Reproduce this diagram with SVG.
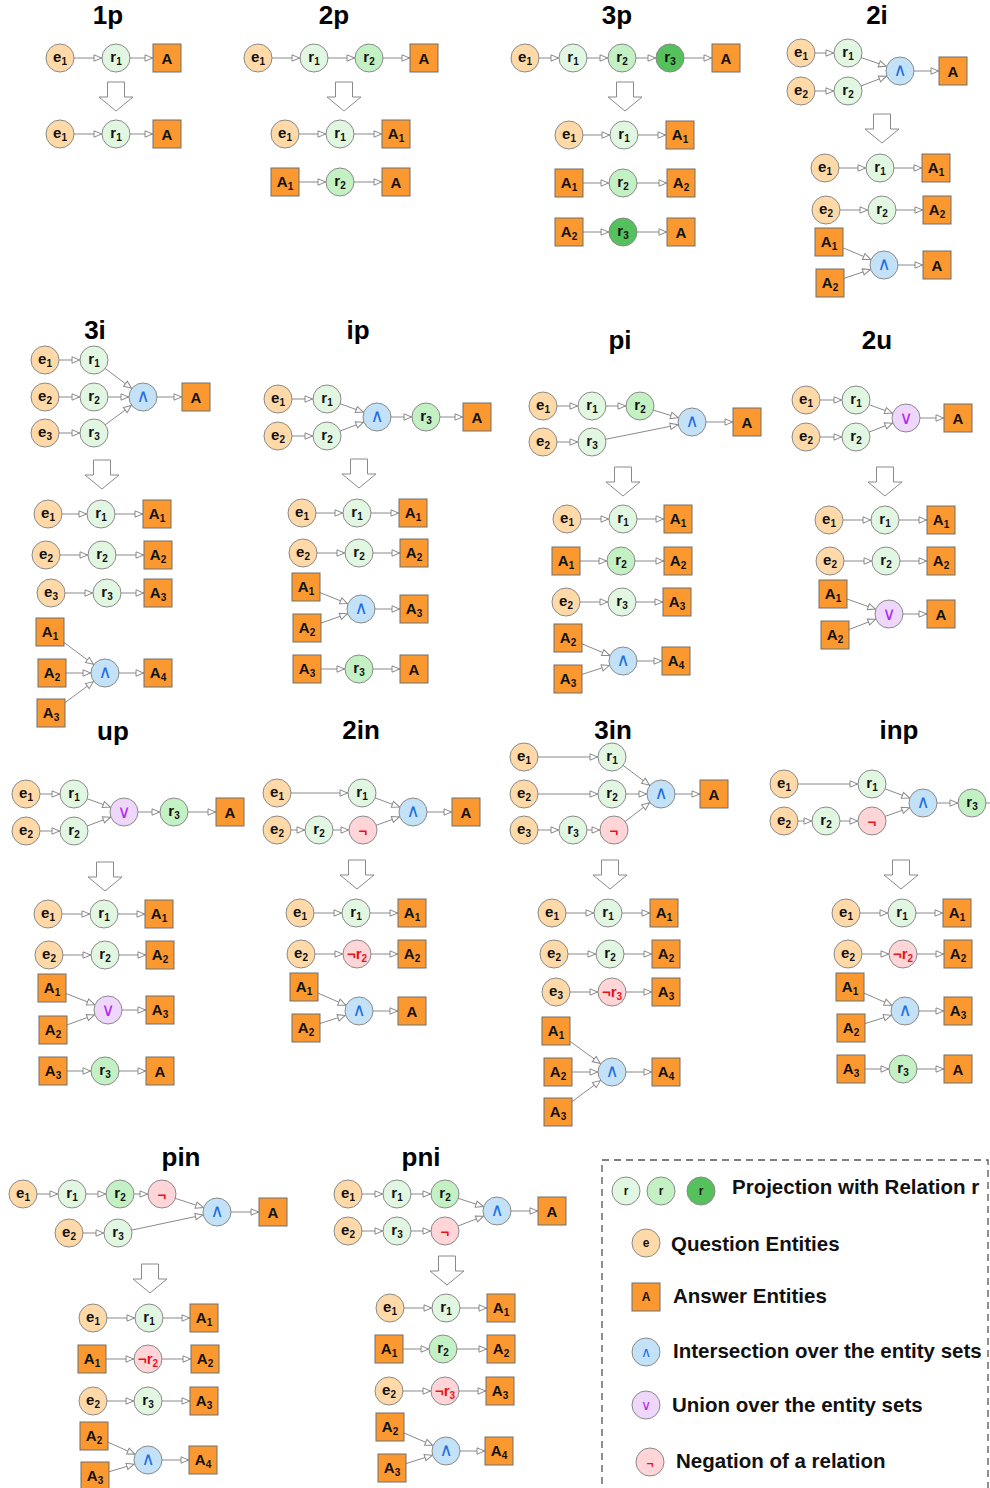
<svg xmlns="http://www.w3.org/2000/svg" width="990" height="1488" viewBox="0 0 990 1488">
<style>
.c{stroke:#8a8a8a;stroke-width:1}
.e{fill:#FFDAA8}.r1{fill:#E2F7E1}.r2{fill:#C3F1C4}.r3{fill:#54C15C}
.and{fill:#C4E2F7}.or{fill:#EFD6FB}.neg{fill:#FFD5D8}
.ans{fill:#FB982F;stroke:#6e6e6e;stroke-width:1}
.l{font-family:"Liberation Sans",Arial,sans-serif;font-weight:bold;font-size:15px;text-anchor:middle;fill:#111}
.s{font-size:10px}
.op{font-family:"DejaVu Sans",sans-serif;font-size:18px;text-anchor:middle}
.ao{fill:#1f6fe0}.oo{fill:#b030e8}
.no{fill:#e8121a}
.ttl{font-family:"Liberation Sans",Arial,sans-serif;font-weight:bold;font-size:26px;text-anchor:middle;fill:#000}
.edge line{stroke:#8a8a8a;stroke-width:1;marker-end:url(#ar)}
.big{fill:#fff;stroke:#8a8a8a;stroke-width:1}
.lg{font-family:"Liberation Sans",Arial,sans-serif;font-weight:bold;font-size:20.5px;fill:#111}
.ls{font-size:12px}
</style>
<defs>
<marker id="ar" markerUnits="userSpaceOnUse" viewBox="-30 -6 32 12" refX="0" refY="0" markerWidth="32" markerHeight="12" orient="auto" overflow="visible">
<path d="M-14.5,0 L-22,-3.2 L-22,3.2 Z" fill="#fff" stroke="#8a8a8a" stroke-width="1"/>
</marker>
<path id="bigarrow" class="big" d="M-8.5,0h17v15h8.5L0,29L-17,15h8.5Z"/>
</defs>
<rect width="990" height="1488" fill="#fff"/>

<g id="titles" class="ttl">
<text x="108" y="24">1p</text><text x="334" y="24">2p</text><text x="617" y="24">3p</text><text x="877" y="24">2i</text>
<text x="95" y="339">3i</text><text x="358" y="339">ip</text><text x="620" y="349">pi</text><text x="877" y="349">2u</text>
<text x="113" y="740">up</text><text x="361" y="739">2in</text><text x="613" y="739">3in</text><text x="899" y="739">inp</text>
<text x="181" y="1166">pin</text><text x="421" y="1166">pni</text>
</g>

<g id="transform-arrows">
<use href="#bigarrow" x="116" y="82"/><use href="#bigarrow" x="344" y="82"/><use href="#bigarrow" x="625" y="82"/><use href="#bigarrow" x="882" y="114"/>
<use href="#bigarrow" x="102" y="460"/><use href="#bigarrow" x="359" y="459"/><use href="#bigarrow" x="623" y="467"/><use href="#bigarrow" x="885" y="467"/>
<use href="#bigarrow" x="105" y="862"/><use href="#bigarrow" x="357" y="860"/><use href="#bigarrow" x="610" y="860"/><use href="#bigarrow" x="901" y="860"/>
<use href="#bigarrow" x="150" y="1264"/><use href="#bigarrow" x="447" y="1256"/>
</g>

<g id="connectors" class="edge">
<line x1="60" y1="58" x2="116" y2="58"/><line x1="116" y1="58" x2="167" y2="58"/><line x1="60" y1="134" x2="116" y2="134"/><line x1="116" y1="134" x2="167" y2="134"/>
<line x1="258" y1="58" x2="314" y2="58"/><line x1="314" y1="58" x2="369" y2="58"/><line x1="369" y1="58" x2="424" y2="58"/><line x1="285" y1="134" x2="340" y2="134"/><line x1="340" y1="134" x2="396" y2="134"/><line x1="285" y1="182" x2="340" y2="182"/><line x1="340" y1="182" x2="396" y2="182"/>
<line x1="525" y1="58" x2="573" y2="58"/><line x1="573" y1="58" x2="622" y2="58"/><line x1="622" y1="58" x2="670" y2="58"/><line x1="670" y1="58" x2="726" y2="58"/><line x1="569" y1="135" x2="624" y2="135"/><line x1="624" y1="135" x2="680" y2="135"/><line x1="569" y1="183" x2="623" y2="183"/><line x1="623" y1="183" x2="681" y2="183"/><line x1="569" y1="232" x2="623" y2="232"/><line x1="623" y1="232" x2="681" y2="232"/>
<line x1="801" y1="53" x2="848" y2="53"/><line x1="801" y1="91" x2="848" y2="91"/><line x1="848" y1="53" x2="900" y2="71"/><line x1="848" y1="91" x2="900" y2="71"/><line x1="900" y1="71" x2="953" y2="71"/><line x1="825" y1="168" x2="880" y2="168"/><line x1="880" y1="168" x2="936" y2="168"/><line x1="826" y1="210" x2="882" y2="210"/><line x1="882" y1="210" x2="937" y2="210"/><line x1="829" y1="242" x2="884" y2="265"/><line x1="830" y1="283" x2="884" y2="265"/><line x1="884" y1="265" x2="937" y2="265"/>
<line x1="45" y1="360" x2="94" y2="360"/><line x1="45" y1="397" x2="94" y2="397"/><line x1="45" y1="433" x2="94" y2="433"/><line x1="94" y1="360" x2="143" y2="397"/><line x1="94" y1="397" x2="143" y2="397"/><line x1="94" y1="433" x2="143" y2="397"/><line x1="143" y1="397" x2="196" y2="397"/>
<line x1="48" y1="514" x2="101" y2="514"/><line x1="101" y1="514" x2="157" y2="514"/><line x1="46" y1="555" x2="102" y2="555"/><line x1="102" y1="555" x2="158" y2="555"/><line x1="51" y1="593" x2="107" y2="593"/><line x1="107" y1="593" x2="158" y2="593"/><line x1="50" y1="632" x2="105" y2="673"/><line x1="52" y1="673" x2="105" y2="673"/><line x1="51" y1="713" x2="105" y2="673"/><line x1="105" y1="673" x2="158" y2="673"/>
<line x1="278" y1="399" x2="327" y2="399"/><line x1="278" y1="436" x2="327" y2="436"/><line x1="327" y1="399" x2="377" y2="417"/><line x1="327" y1="436" x2="377" y2="417"/><line x1="377" y1="417" x2="426" y2="417"/><line x1="426" y1="417" x2="477" y2="417"/>
<line x1="302" y1="513" x2="357" y2="513"/><line x1="357" y1="513" x2="413" y2="513"/><line x1="303" y1="553" x2="359" y2="553"/><line x1="359" y1="553" x2="414" y2="553"/><line x1="306" y1="587" x2="361" y2="609"/><line x1="307" y1="628" x2="361" y2="609"/><line x1="361" y1="609" x2="414" y2="609"/><line x1="307" y1="669" x2="359" y2="669"/><line x1="359" y1="669" x2="414" y2="669"/>
<line x1="543" y1="406" x2="592" y2="406"/><line x1="592" y1="406" x2="640" y2="406"/><line x1="640" y1="406" x2="692" y2="422"/><line x1="543" y1="442" x2="592" y2="442"/><line x1="592" y1="442" x2="692" y2="422"/><line x1="692" y1="422" x2="747" y2="422"/>
<line x1="567" y1="519" x2="623" y2="519"/><line x1="623" y1="519" x2="678" y2="519"/><line x1="566" y1="561" x2="621" y2="561"/><line x1="621" y1="561" x2="678" y2="561"/><line x1="566" y1="602" x2="622" y2="602"/><line x1="622" y1="602" x2="677" y2="602"/><line x1="568" y1="638" x2="623" y2="661"/><line x1="568" y1="679" x2="623" y2="661"/><line x1="623" y1="661" x2="676" y2="661"/>
<line x1="806" y1="400" x2="856" y2="400"/><line x1="806" y1="437" x2="856" y2="437"/><line x1="856" y1="400" x2="906" y2="418"/><line x1="856" y1="437" x2="906" y2="418"/><line x1="906" y1="418" x2="958" y2="418"/>
<line x1="829" y1="520" x2="885" y2="520"/><line x1="885" y1="520" x2="941" y2="520"/><line x1="830" y1="561" x2="886" y2="561"/><line x1="886" y1="561" x2="941" y2="561"/><line x1="833" y1="594" x2="889" y2="614"/><line x1="835" y1="635" x2="889" y2="614"/><line x1="889" y1="614" x2="941" y2="614"/>
<line x1="26" y1="794" x2="74" y2="794"/><line x1="26" y1="831" x2="74" y2="831"/><line x1="74" y1="794" x2="124" y2="812"/><line x1="74" y1="831" x2="124" y2="812"/><line x1="124" y1="812" x2="174" y2="812"/><line x1="174" y1="812" x2="230" y2="812"/>
<line x1="48" y1="914" x2="104" y2="914"/><line x1="104" y1="914" x2="159" y2="914"/><line x1="49" y1="955" x2="105" y2="955"/><line x1="105" y1="955" x2="160" y2="955"/><line x1="52" y1="988" x2="108" y2="1010"/><line x1="53" y1="1030" x2="108" y2="1010"/><line x1="108" y1="1010" x2="160" y2="1010"/><line x1="53" y1="1071" x2="105" y2="1071"/><line x1="105" y1="1071" x2="160" y2="1071"/>
<line x1="277" y1="793" x2="362" y2="793"/><line x1="277" y1="830" x2="319" y2="830"/><line x1="319" y1="830" x2="363" y2="830"/><line x1="362" y1="793" x2="413" y2="812"/><line x1="363" y1="830" x2="413" y2="812"/><line x1="413" y1="812" x2="466" y2="812"/>
<line x1="300" y1="913" x2="356" y2="913"/><line x1="356" y1="913" x2="412" y2="913"/><line x1="301" y1="954" x2="357" y2="954"/><line x1="357" y1="954" x2="412" y2="954"/><line x1="304" y1="987" x2="359" y2="1011"/><line x1="306" y1="1028" x2="359" y2="1011"/><line x1="359" y1="1011" x2="412" y2="1011"/>
<line x1="524" y1="757" x2="612" y2="757"/><line x1="524" y1="794" x2="612" y2="794"/><line x1="524" y1="830" x2="573" y2="830"/><line x1="573" y1="830" x2="614" y2="830"/><line x1="612" y1="757" x2="661" y2="794"/><line x1="612" y1="794" x2="661" y2="794"/><line x1="614" y1="830" x2="661" y2="794"/><line x1="661" y1="794" x2="714" y2="794"/>
<line x1="552" y1="913" x2="608" y2="913"/><line x1="608" y1="913" x2="664" y2="913"/><line x1="554" y1="954" x2="610" y2="954"/><line x1="610" y1="954" x2="666" y2="954"/><line x1="556" y1="992" x2="612" y2="992"/><line x1="612" y1="992" x2="666" y2="992"/><line x1="556" y1="1031" x2="612" y2="1072"/><line x1="558" y1="1072" x2="612" y2="1072"/><line x1="558" y1="1112" x2="612" y2="1072"/><line x1="612" y1="1072" x2="666" y2="1072"/>
<line x1="784" y1="784" x2="872" y2="784"/><line x1="784" y1="821" x2="826" y2="821"/><line x1="826" y1="821" x2="872" y2="821"/><line x1="872" y1="784" x2="923" y2="803"/><line x1="872" y1="821" x2="923" y2="803"/><line x1="923" y1="803" x2="972" y2="803"/><line x1="972" y1="803" x2="992" y2="803" style="marker-end:none"/>
<line x1="846" y1="913" x2="902" y2="913"/><line x1="902" y1="913" x2="957" y2="913"/><line x1="848" y1="954" x2="903" y2="954"/><line x1="903" y1="954" x2="958" y2="954"/><line x1="850" y1="987" x2="905" y2="1011"/><line x1="851" y1="1028" x2="905" y2="1011"/><line x1="905" y1="1011" x2="958" y2="1011"/><line x1="851" y1="1069" x2="903" y2="1069"/><line x1="903" y1="1069" x2="958" y2="1069"/>
<line x1="23" y1="1194" x2="72" y2="1194"/><line x1="72" y1="1194" x2="120" y2="1194"/><line x1="120" y1="1194" x2="162" y2="1194"/><line x1="162" y1="1194" x2="217" y2="1212"/><line x1="69" y1="1233" x2="118" y2="1233"/><line x1="118" y1="1233" x2="217" y2="1212"/><line x1="217" y1="1212" x2="273" y2="1212"/>
<line x1="93" y1="1318" x2="149" y2="1318"/><line x1="149" y1="1318" x2="204" y2="1318"/><line x1="92" y1="1359" x2="148" y2="1359"/><line x1="148" y1="1359" x2="205" y2="1359"/><line x1="93" y1="1401" x2="148" y2="1401"/><line x1="148" y1="1401" x2="204" y2="1401"/><line x1="94" y1="1436" x2="148" y2="1460"/><line x1="95" y1="1476" x2="148" y2="1460"/><line x1="148" y1="1460" x2="203" y2="1460"/>
<line x1="348" y1="1194" x2="397" y2="1194"/><line x1="397" y1="1194" x2="445" y2="1194"/><line x1="445" y1="1194" x2="497" y2="1211"/><line x1="348" y1="1231" x2="397" y2="1231"/><line x1="397" y1="1231" x2="445" y2="1231"/><line x1="445" y1="1231" x2="497" y2="1211"/><line x1="497" y1="1211" x2="552" y2="1211"/>
<line x1="390" y1="1308" x2="446" y2="1308"/><line x1="446" y1="1308" x2="501" y2="1308"/><line x1="389" y1="1349" x2="443" y2="1349"/><line x1="443" y1="1349" x2="501" y2="1349"/><line x1="389" y1="1391" x2="445" y2="1391"/><line x1="445" y1="1391" x2="500" y2="1391"/><line x1="390" y1="1427" x2="446" y2="1451"/><line x1="392" y1="1468" x2="446" y2="1451"/><line x1="446" y1="1451" x2="499" y2="1451"/>
</g>

<!-- 1p -->
<g id="p1-e1"><circle class="c e" cx="60" cy="58" r="14"/><text class="l" x="60" y="62">e<tspan class="s" dy="3">1</tspan></text></g>
<g id="p1-r1"><circle class="c r1" cx="116" cy="58" r="14"/><text class="l" x="116" y="62">r<tspan class="s" dy="3">1</tspan></text></g>
<g id="p1-A"><rect class="ans" x="153" y="44" width="28" height="28"/><text class="l" x="167" y="64">A</text></g>
<g id="p1b-e1"><circle class="c e" cx="60" cy="134" r="14"/><text class="l" x="60" y="138">e<tspan class="s" dy="3">1</tspan></text></g>
<g id="p1b-r1"><circle class="c r1" cx="116" cy="134" r="14"/><text class="l" x="116" y="138">r<tspan class="s" dy="3">1</tspan></text></g>
<g id="p1b-A"><rect class="ans" x="153" y="120" width="28" height="28"/><text class="l" x="167" y="140">A</text></g>

<!-- 2p -->
<g id="p2-e1"><circle class="c e" cx="258" cy="58" r="14"/><text class="l" x="258" y="62">e<tspan class="s" dy="3">1</tspan></text></g>
<g id="p2-r1"><circle class="c r1" cx="314" cy="58" r="14"/><text class="l" x="314" y="62">r<tspan class="s" dy="3">1</tspan></text></g>
<g id="p2-r2"><circle class="c r2" cx="369" cy="58" r="14"/><text class="l" x="369" y="62">r<tspan class="s" dy="3">2</tspan></text></g>
<g id="p2-A"><rect class="ans" x="410" y="44" width="28" height="28"/><text class="l" x="424" y="64">A</text></g>
<g id="p2b-e1"><circle class="c e" cx="285" cy="134" r="14"/><text class="l" x="285" y="138">e<tspan class="s" dy="3">1</tspan></text></g>
<g id="p2b-r1"><circle class="c r1" cx="340" cy="134" r="14"/><text class="l" x="340" y="138">r<tspan class="s" dy="3">1</tspan></text></g>
<g id="p2b-A1"><rect class="ans" x="382" y="120" width="28" height="28"/><text class="l" x="396" y="139">A<tspan class="s" dy="3">1</tspan></text></g>
<g id="p2c-A1"><rect class="ans" x="271" y="168" width="28" height="28"/><text class="l" x="285" y="187">A<tspan class="s" dy="3">1</tspan></text></g>
<g id="p2c-r2"><circle class="c r2" cx="340" cy="182" r="14"/><text class="l" x="340" y="186">r<tspan class="s" dy="3">2</tspan></text></g>
<g id="p2c-A"><rect class="ans" x="382" y="168" width="28" height="28"/><text class="l" x="396" y="188">A</text></g>

<!-- 3p -->
<g id="p3-e1"><circle class="c e" cx="525" cy="58" r="14"/><text class="l" x="525" y="62">e<tspan class="s" dy="3">1</tspan></text></g>
<g id="p3-r1"><circle class="c r1" cx="573" cy="58" r="14"/><text class="l" x="573" y="62">r<tspan class="s" dy="3">1</tspan></text></g>
<g id="p3-r2"><circle class="c r2" cx="622" cy="58" r="14"/><text class="l" x="622" y="62">r<tspan class="s" dy="3">2</tspan></text></g>
<g id="p3-r3"><circle class="c r3" cx="670" cy="58" r="14"/><text class="l" x="670" y="62">r<tspan class="s" dy="3">3</tspan></text></g>
<g id="p3-A"><rect class="ans" x="712" y="44" width="28" height="28"/><text class="l" x="726" y="64">A</text></g>
<g id="p3b-e1"><circle class="c e" cx="569" cy="135" r="14"/><text class="l" x="569" y="139">e<tspan class="s" dy="3">1</tspan></text></g>
<g id="p3b-r1"><circle class="c r1" cx="624" cy="135" r="14"/><text class="l" x="624" y="139">r<tspan class="s" dy="3">1</tspan></text></g>
<g id="p3b-A1"><rect class="ans" x="666" y="121" width="28" height="28"/><text class="l" x="680" y="140">A<tspan class="s" dy="3">1</tspan></text></g>
<g id="p3c-A1"><rect class="ans" x="555" y="169" width="28" height="28"/><text class="l" x="569" y="188">A<tspan class="s" dy="3">1</tspan></text></g>
<g id="p3c-r2"><circle class="c r2" cx="623" cy="183" r="14"/><text class="l" x="623" y="187">r<tspan class="s" dy="3">2</tspan></text></g>
<g id="p3c-A2"><rect class="ans" x="667" y="169" width="28" height="28"/><text class="l" x="681" y="188">A<tspan class="s" dy="3">2</tspan></text></g>
<g id="p3d-A2"><rect class="ans" x="555" y="218" width="28" height="28"/><text class="l" x="569" y="237">A<tspan class="s" dy="3">2</tspan></text></g>
<g id="p3d-r3"><circle class="c r3" cx="623" cy="232" r="14"/><text class="l" x="623" y="236">r<tspan class="s" dy="3">3</tspan></text></g>
<g id="p3d-A"><rect class="ans" x="667" y="218" width="28" height="28"/><text class="l" x="681" y="238">A</text></g>

<!-- 2i -->
<g id="i2-e1"><circle class="c e" cx="801" cy="53" r="14"/><text class="l" x="801" y="57">e<tspan class="s" dy="3">1</tspan></text></g>
<g id="i2-r1"><circle class="c r1" cx="848" cy="53" r="14"/><text class="l" x="848" y="57">r<tspan class="s" dy="3">1</tspan></text></g>
<g id="i2-e2"><circle class="c e" cx="801" cy="91" r="14"/><text class="l" x="801" y="95">e<tspan class="s" dy="3">2</tspan></text></g>
<g id="i2-r2"><circle class="c r1" cx="848" cy="91" r="14"/><text class="l" x="848" y="95">r<tspan class="s" dy="3">2</tspan></text></g>
<g id="i2-and"><circle class="c and" cx="900" cy="71" r="14"/><text class="op ao" x="900" y="76">∧</text></g>
<g id="i2-A"><rect class="ans" x="939" y="57" width="28" height="28"/><text class="l" x="953" y="77">A</text></g>
<g id="i2b-e1"><circle class="c e" cx="825" cy="168" r="14"/><text class="l" x="825" y="172">e<tspan class="s" dy="3">1</tspan></text></g>
<g id="i2b-r1"><circle class="c r1" cx="880" cy="168" r="14"/><text class="l" x="880" y="172">r<tspan class="s" dy="3">1</tspan></text></g>
<g id="i2b-A1"><rect class="ans" x="922" y="154" width="28" height="28"/><text class="l" x="936" y="173">A<tspan class="s" dy="3">1</tspan></text></g>
<g id="i2c-e2"><circle class="c e" cx="826" cy="210" r="14"/><text class="l" x="826" y="214">e<tspan class="s" dy="3">2</tspan></text></g>
<g id="i2c-r2"><circle class="c r1" cx="882" cy="210" r="14"/><text class="l" x="882" y="214">r<tspan class="s" dy="3">2</tspan></text></g>
<g id="i2c-A2"><rect class="ans" x="923" y="196" width="28" height="28"/><text class="l" x="937" y="215">A<tspan class="s" dy="3">2</tspan></text></g>
<g id="i2d-A1"><rect class="ans" x="815" y="228" width="28" height="28"/><text class="l" x="829" y="247">A<tspan class="s" dy="3">1</tspan></text></g>
<g id="i2d-A2"><rect class="ans" x="816" y="269" width="28" height="28"/><text class="l" x="830" y="288">A<tspan class="s" dy="3">2</tspan></text></g>
<g id="i2d-and"><circle class="c and" cx="884" cy="265" r="14"/><text class="op ao" x="884" y="270">∧</text></g>
<g id="i2d-A"><rect class="ans" x="923" y="251" width="28" height="28"/><text class="l" x="937" y="271">A</text></g>

<!-- 3i -->
<g id="i3-e1"><circle class="c e" cx="45" cy="360" r="14"/><text class="l" x="45" y="364">e<tspan class="s" dy="3">1</tspan></text></g>
<g id="i3-r1"><circle class="c r1" cx="94" cy="360" r="14"/><text class="l" x="94" y="364">r<tspan class="s" dy="3">1</tspan></text></g>
<g id="i3-e2"><circle class="c e" cx="45" cy="397" r="14"/><text class="l" x="45" y="401">e<tspan class="s" dy="3">2</tspan></text></g>
<g id="i3-r2"><circle class="c r1" cx="94" cy="397" r="14"/><text class="l" x="94" y="401">r<tspan class="s" dy="3">2</tspan></text></g>
<g id="i3-e3"><circle class="c e" cx="45" cy="433" r="14"/><text class="l" x="45" y="437">e<tspan class="s" dy="3">3</tspan></text></g>
<g id="i3-r3"><circle class="c r1" cx="94" cy="433" r="14"/><text class="l" x="94" y="437">r<tspan class="s" dy="3">3</tspan></text></g>
<g id="i3-and"><circle class="c and" cx="143" cy="397" r="14"/><text class="op ao" x="143" y="402">∧</text></g>
<g id="i3-A"><rect class="ans" x="182" y="383" width="28" height="28"/><text class="l" x="196" y="403">A</text></g>
<g id="i3b-e1"><circle class="c e" cx="48" cy="514" r="14"/><text class="l" x="48" y="518">e<tspan class="s" dy="3">1</tspan></text></g>
<g id="i3b-r1"><circle class="c r1" cx="101" cy="514" r="14"/><text class="l" x="101" y="518">r<tspan class="s" dy="3">1</tspan></text></g>
<g id="i3b-A1"><rect class="ans" x="143" y="500" width="28" height="28"/><text class="l" x="157" y="519">A<tspan class="s" dy="3">1</tspan></text></g>
<g id="i3c-e2"><circle class="c e" cx="46" cy="555" r="14"/><text class="l" x="46" y="559">e<tspan class="s" dy="3">2</tspan></text></g>
<g id="i3c-r2"><circle class="c r1" cx="102" cy="555" r="14"/><text class="l" x="102" y="559">r<tspan class="s" dy="3">2</tspan></text></g>
<g id="i3c-A2"><rect class="ans" x="144" y="541" width="28" height="28"/><text class="l" x="158" y="560">A<tspan class="s" dy="3">2</tspan></text></g>
<g id="i3d-e3"><circle class="c e" cx="51" cy="593" r="14"/><text class="l" x="51" y="597">e<tspan class="s" dy="3">3</tspan></text></g>
<g id="i3d-r3"><circle class="c r1" cx="107" cy="593" r="14"/><text class="l" x="107" y="597">r<tspan class="s" dy="3">3</tspan></text></g>
<g id="i3d-A3"><rect class="ans" x="144" y="579" width="28" height="28"/><text class="l" x="158" y="598">A<tspan class="s" dy="3">3</tspan></text></g>
<g id="i3e-A1"><rect class="ans" x="36" y="618" width="28" height="28"/><text class="l" x="50" y="637">A<tspan class="s" dy="3">1</tspan></text></g>
<g id="i3e-A2"><rect class="ans" x="38" y="659" width="28" height="28"/><text class="l" x="52" y="678">A<tspan class="s" dy="3">2</tspan></text></g>
<g id="i3e-A3"><rect class="ans" x="37" y="699" width="28" height="28"/><text class="l" x="51" y="718">A<tspan class="s" dy="3">3</tspan></text></g>
<g id="i3e-and"><circle class="c and" cx="105" cy="673" r="14"/><text class="op ao" x="105" y="678">∧</text></g>
<g id="i3e-A4"><rect class="ans" x="144" y="659" width="28" height="28"/><text class="l" x="158" y="678">A<tspan class="s" dy="3">4</tspan></text></g>

<!-- ip -->
<g id="ip-e1"><circle class="c e" cx="278" cy="399" r="14"/><text class="l" x="278" y="403">e<tspan class="s" dy="3">1</tspan></text></g>
<g id="ip-r1"><circle class="c r1" cx="327" cy="399" r="14"/><text class="l" x="327" y="403">r<tspan class="s" dy="3">1</tspan></text></g>
<g id="ip-e2"><circle class="c e" cx="278" cy="436" r="14"/><text class="l" x="278" y="440">e<tspan class="s" dy="3">2</tspan></text></g>
<g id="ip-r2"><circle class="c r1" cx="327" cy="436" r="14"/><text class="l" x="327" y="440">r<tspan class="s" dy="3">2</tspan></text></g>
<g id="ip-and"><circle class="c and" cx="377" cy="417" r="14"/><text class="op ao" x="377" y="422">∧</text></g>
<g id="ip-r3"><circle class="c r2" cx="426" cy="417" r="14"/><text class="l" x="426" y="421">r<tspan class="s" dy="3">3</tspan></text></g>
<g id="ip-A"><rect class="ans" x="463" y="403" width="28" height="28"/><text class="l" x="477" y="423">A</text></g>
<g id="ipb-e1"><circle class="c e" cx="302" cy="513" r="14"/><text class="l" x="302" y="517">e<tspan class="s" dy="3">1</tspan></text></g>
<g id="ipb-r1"><circle class="c r1" cx="357" cy="513" r="14"/><text class="l" x="357" y="517">r<tspan class="s" dy="3">1</tspan></text></g>
<g id="ipb-A1"><rect class="ans" x="399" y="499" width="28" height="28"/><text class="l" x="413" y="518">A<tspan class="s" dy="3">1</tspan></text></g>
<g id="ipc-e2"><circle class="c e" cx="303" cy="553" r="14"/><text class="l" x="303" y="557">e<tspan class="s" dy="3">2</tspan></text></g>
<g id="ipc-r2"><circle class="c r1" cx="359" cy="553" r="14"/><text class="l" x="359" y="557">r<tspan class="s" dy="3">2</tspan></text></g>
<g id="ipc-A2"><rect class="ans" x="400" y="539" width="28" height="28"/><text class="l" x="414" y="558">A<tspan class="s" dy="3">2</tspan></text></g>
<g id="ipd-A1"><rect class="ans" x="292" y="573" width="28" height="28"/><text class="l" x="306" y="592">A<tspan class="s" dy="3">1</tspan></text></g>
<g id="ipd-A2"><rect class="ans" x="293" y="614" width="28" height="28"/><text class="l" x="307" y="633">A<tspan class="s" dy="3">2</tspan></text></g>
<g id="ipd-and"><circle class="c and" cx="361" cy="609" r="14"/><text class="op ao" x="361" y="614">∧</text></g>
<g id="ipd-A3"><rect class="ans" x="400" y="595" width="28" height="28"/><text class="l" x="414" y="614">A<tspan class="s" dy="3">3</tspan></text></g>
<g id="ipe-A3"><rect class="ans" x="293" y="655" width="28" height="28"/><text class="l" x="307" y="674">A<tspan class="s" dy="3">3</tspan></text></g>
<g id="ipe-r3"><circle class="c r2" cx="359" cy="669" r="14"/><text class="l" x="359" y="673">r<tspan class="s" dy="3">3</tspan></text></g>
<g id="ipe-A"><rect class="ans" x="400" y="655" width="28" height="28"/><text class="l" x="414" y="675">A</text></g>

<!-- pi -->
<g id="pi-e1"><circle class="c e" cx="543" cy="406" r="14"/><text class="l" x="543" y="410">e<tspan class="s" dy="3">1</tspan></text></g>
<g id="pi-r1"><circle class="c r1" cx="592" cy="406" r="14"/><text class="l" x="592" y="410">r<tspan class="s" dy="3">1</tspan></text></g>
<g id="pi-r2"><circle class="c r2" cx="640" cy="406" r="14"/><text class="l" x="640" y="410">r<tspan class="s" dy="3">2</tspan></text></g>
<g id="pi-e2"><circle class="c e" cx="543" cy="442" r="14"/><text class="l" x="543" y="446">e<tspan class="s" dy="3">2</tspan></text></g>
<g id="pi-r3"><circle class="c r1" cx="592" cy="442" r="14"/><text class="l" x="592" y="446">r<tspan class="s" dy="3">3</tspan></text></g>
<g id="pi-and"><circle class="c and" cx="692" cy="422" r="14"/><text class="op ao" x="692" y="427">∧</text></g>
<g id="pi-A"><rect class="ans" x="733" y="408" width="28" height="28"/><text class="l" x="747" y="428">A</text></g>
<g id="pib-e1"><circle class="c e" cx="567" cy="519" r="14"/><text class="l" x="567" y="523">e<tspan class="s" dy="3">1</tspan></text></g>
<g id="pib-r1"><circle class="c r1" cx="623" cy="519" r="14"/><text class="l" x="623" y="523">r<tspan class="s" dy="3">1</tspan></text></g>
<g id="pib-A1"><rect class="ans" x="664" y="505" width="28" height="28"/><text class="l" x="678" y="524">A<tspan class="s" dy="3">1</tspan></text></g>
<g id="pic-A1"><rect class="ans" x="552" y="547" width="28" height="28"/><text class="l" x="566" y="566">A<tspan class="s" dy="3">1</tspan></text></g>
<g id="pic-r2"><circle class="c r2" cx="621" cy="561" r="14"/><text class="l" x="621" y="565">r<tspan class="s" dy="3">2</tspan></text></g>
<g id="pic-A2"><rect class="ans" x="664" y="547" width="28" height="28"/><text class="l" x="678" y="566">A<tspan class="s" dy="3">2</tspan></text></g>
<g id="pid-e2"><circle class="c e" cx="566" cy="602" r="14"/><text class="l" x="566" y="606">e<tspan class="s" dy="3">2</tspan></text></g>
<g id="pid-r3"><circle class="c r1" cx="622" cy="602" r="14"/><text class="l" x="622" y="606">r<tspan class="s" dy="3">3</tspan></text></g>
<g id="pid-A3"><rect class="ans" x="663" y="588" width="28" height="28"/><text class="l" x="677" y="607">A<tspan class="s" dy="3">3</tspan></text></g>
<g id="pie-A2"><rect class="ans" x="554" y="624" width="28" height="28"/><text class="l" x="568" y="643">A<tspan class="s" dy="3">2</tspan></text></g>
<g id="pie-A3"><rect class="ans" x="554" y="665" width="28" height="28"/><text class="l" x="568" y="684">A<tspan class="s" dy="3">3</tspan></text></g>
<g id="pie-and"><circle class="c and" cx="623" cy="661" r="14"/><text class="op ao" x="623" y="666">∧</text></g>
<g id="pie-A4"><rect class="ans" x="662" y="647" width="28" height="28"/><text class="l" x="676" y="666">A<tspan class="s" dy="3">4</tspan></text></g>

<!-- 2u -->
<g id="u2-e1"><circle class="c e" cx="806" cy="400" r="14"/><text class="l" x="806" y="404">e<tspan class="s" dy="3">1</tspan></text></g>
<g id="u2-r1"><circle class="c r1" cx="856" cy="400" r="14"/><text class="l" x="856" y="404">r<tspan class="s" dy="3">1</tspan></text></g>
<g id="u2-e2"><circle class="c e" cx="806" cy="437" r="14"/><text class="l" x="806" y="441">e<tspan class="s" dy="3">2</tspan></text></g>
<g id="u2-r2"><circle class="c r1" cx="856" cy="437" r="14"/><text class="l" x="856" y="441">r<tspan class="s" dy="3">2</tspan></text></g>
<g id="u2-or"><circle class="c or" cx="906" cy="418" r="14"/><text class="op oo" x="906" y="424">∨</text></g>
<g id="u2-A"><rect class="ans" x="944" y="404" width="28" height="28"/><text class="l" x="958" y="424">A</text></g>
<g id="u2b-e1"><circle class="c e" cx="829" cy="520" r="14"/><text class="l" x="829" y="524">e<tspan class="s" dy="3">1</tspan></text></g>
<g id="u2b-r1"><circle class="c r1" cx="885" cy="520" r="14"/><text class="l" x="885" y="524">r<tspan class="s" dy="3">1</tspan></text></g>
<g id="u2b-A1"><rect class="ans" x="927" y="506" width="28" height="28"/><text class="l" x="941" y="525">A<tspan class="s" dy="3">1</tspan></text></g>
<g id="u2c-e2"><circle class="c e" cx="830" cy="561" r="14"/><text class="l" x="830" y="565">e<tspan class="s" dy="3">2</tspan></text></g>
<g id="u2c-r2"><circle class="c r1" cx="886" cy="561" r="14"/><text class="l" x="886" y="565">r<tspan class="s" dy="3">2</tspan></text></g>
<g id="u2c-A2"><rect class="ans" x="927" y="547" width="28" height="28"/><text class="l" x="941" y="566">A<tspan class="s" dy="3">2</tspan></text></g>
<g id="u2d-A1"><rect class="ans" x="819" y="580" width="28" height="28"/><text class="l" x="833" y="599">A<tspan class="s" dy="3">1</tspan></text></g>
<g id="u2d-A2"><rect class="ans" x="821" y="621" width="28" height="28"/><text class="l" x="835" y="640">A<tspan class="s" dy="3">2</tspan></text></g>
<g id="u2d-or"><circle class="c or" cx="889" cy="614" r="14"/><text class="op oo" x="889" y="620">∨</text></g>
<g id="u2d-A"><rect class="ans" x="927" y="600" width="28" height="28"/><text class="l" x="941" y="620">A</text></g>

<!-- up -->
<g id="up-e1"><circle class="c e" cx="26" cy="794" r="14"/><text class="l" x="26" y="798">e<tspan class="s" dy="3">1</tspan></text></g>
<g id="up-r1"><circle class="c r1" cx="74" cy="794" r="14"/><text class="l" x="74" y="798">r<tspan class="s" dy="3">1</tspan></text></g>
<g id="up-e2"><circle class="c e" cx="26" cy="831" r="14"/><text class="l" x="26" y="835">e<tspan class="s" dy="3">2</tspan></text></g>
<g id="up-r2"><circle class="c r1" cx="74" cy="831" r="14"/><text class="l" x="74" y="835">r<tspan class="s" dy="3">2</tspan></text></g>
<g id="up-or"><circle class="c or" cx="124" cy="812" r="14"/><text class="op oo" x="124" y="818">∨</text></g>
<g id="up-r3"><circle class="c r2" cx="174" cy="812" r="14"/><text class="l" x="174" y="816">r<tspan class="s" dy="3">3</tspan></text></g>
<g id="up-A"><rect class="ans" x="216" y="798" width="28" height="28"/><text class="l" x="230" y="818">A</text></g>
<g id="upb-e1"><circle class="c e" cx="48" cy="914" r="14"/><text class="l" x="48" y="918">e<tspan class="s" dy="3">1</tspan></text></g>
<g id="upb-r1"><circle class="c r1" cx="104" cy="914" r="14"/><text class="l" x="104" y="918">r<tspan class="s" dy="3">1</tspan></text></g>
<g id="upb-A1"><rect class="ans" x="145" y="900" width="28" height="28"/><text class="l" x="159" y="919">A<tspan class="s" dy="3">1</tspan></text></g>
<g id="upc-e2"><circle class="c e" cx="49" cy="955" r="14"/><text class="l" x="49" y="959">e<tspan class="s" dy="3">2</tspan></text></g>
<g id="upc-r2"><circle class="c r1" cx="105" cy="955" r="14"/><text class="l" x="105" y="959">r<tspan class="s" dy="3">2</tspan></text></g>
<g id="upc-A2"><rect class="ans" x="146" y="941" width="28" height="28"/><text class="l" x="160" y="960">A<tspan class="s" dy="3">2</tspan></text></g>
<g id="upd-A1"><rect class="ans" x="38" y="974" width="28" height="28"/><text class="l" x="52" y="993">A<tspan class="s" dy="3">1</tspan></text></g>
<g id="upd-A2"><rect class="ans" x="39" y="1016" width="28" height="28"/><text class="l" x="53" y="1035">A<tspan class="s" dy="3">2</tspan></text></g>
<g id="upd-or"><circle class="c or" cx="108" cy="1010" r="14"/><text class="op oo" x="108" y="1016">∨</text></g>
<g id="upd-A3"><rect class="ans" x="146" y="996" width="28" height="28"/><text class="l" x="160" y="1015">A<tspan class="s" dy="3">3</tspan></text></g>
<g id="upe-A3"><rect class="ans" x="39" y="1057" width="28" height="28"/><text class="l" x="53" y="1076">A<tspan class="s" dy="3">3</tspan></text></g>
<g id="upe-r3"><circle class="c r2" cx="105" cy="1071" r="14"/><text class="l" x="105" y="1075">r<tspan class="s" dy="3">3</tspan></text></g>
<g id="upe-A"><rect class="ans" x="146" y="1057" width="28" height="28"/><text class="l" x="160" y="1077">A</text></g>

<!-- 2in -->
<g id="n2-e1"><circle class="c e" cx="277" cy="793" r="14"/><text class="l" x="277" y="797">e<tspan class="s" dy="3">1</tspan></text></g>
<g id="n2-r1"><circle class="c r1" cx="362" cy="793" r="14"/><text class="l" x="362" y="797">r<tspan class="s" dy="3">1</tspan></text></g>
<g id="n2-e2"><circle class="c e" cx="277" cy="830" r="14"/><text class="l" x="277" y="834">e<tspan class="s" dy="3">2</tspan></text></g>
<g id="n2-r2"><circle class="c r1" cx="319" cy="830" r="14"/><text class="l" x="319" y="834">r<tspan class="s" dy="3">2</tspan></text></g>
<g id="n2-neg"><circle class="c neg" cx="363" cy="830" r="14"/><text class="l no" x="363" y="836">¬</text></g>
<g id="n2-and"><circle class="c and" cx="413" cy="812" r="14"/><text class="op ao" x="413" y="817">∧</text></g>
<g id="n2-A"><rect class="ans" x="452" y="798" width="28" height="28"/><text class="l" x="466" y="818">A</text></g>
<g id="n2b-e1"><circle class="c e" cx="300" cy="913" r="14"/><text class="l" x="300" y="917">e<tspan class="s" dy="3">1</tspan></text></g>
<g id="n2b-r1"><circle class="c r1" cx="356" cy="913" r="14"/><text class="l" x="356" y="917">r<tspan class="s" dy="3">1</tspan></text></g>
<g id="n2b-A1"><rect class="ans" x="398" y="899" width="28" height="28"/><text class="l" x="412" y="918">A<tspan class="s" dy="3">1</tspan></text></g>
<g id="n2c-e2"><circle class="c e" cx="301" cy="954" r="14"/><text class="l" x="301" y="958">e<tspan class="s" dy="3">2</tspan></text></g>
<g id="n2c-negr2"><circle class="c neg" cx="357" cy="954" r="14"/><text class="l no" x="357" y="959">¬r<tspan class="s" dy="3">2</tspan></text></g>
<g id="n2c-A2"><rect class="ans" x="398" y="940" width="28" height="28"/><text class="l" x="412" y="959">A<tspan class="s" dy="3">2</tspan></text></g>
<g id="n2d-A1"><rect class="ans" x="290" y="973" width="28" height="28"/><text class="l" x="304" y="992">A<tspan class="s" dy="3">1</tspan></text></g>
<g id="n2d-A2"><rect class="ans" x="292" y="1014" width="28" height="28"/><text class="l" x="306" y="1033">A<tspan class="s" dy="3">2</tspan></text></g>
<g id="n2d-and"><circle class="c and" cx="359" cy="1011" r="14"/><text class="op ao" x="359" y="1016">∧</text></g>
<g id="n2d-A"><rect class="ans" x="398" y="997" width="28" height="28"/><text class="l" x="412" y="1017">A</text></g>

<!-- 3in -->
<g id="n3-e1"><circle class="c e" cx="524" cy="757" r="14"/><text class="l" x="524" y="761">e<tspan class="s" dy="3">1</tspan></text></g>
<g id="n3-r1"><circle class="c r1" cx="612" cy="757" r="14"/><text class="l" x="612" y="761">r<tspan class="s" dy="3">1</tspan></text></g>
<g id="n3-e2"><circle class="c e" cx="524" cy="794" r="14"/><text class="l" x="524" y="798">e<tspan class="s" dy="3">2</tspan></text></g>
<g id="n3-r2"><circle class="c r1" cx="612" cy="794" r="14"/><text class="l" x="612" y="798">r<tspan class="s" dy="3">2</tspan></text></g>
<g id="n3-e3"><circle class="c e" cx="524" cy="830" r="14"/><text class="l" x="524" y="834">e<tspan class="s" dy="3">3</tspan></text></g>
<g id="n3-r3"><circle class="c r1" cx="573" cy="830" r="14"/><text class="l" x="573" y="834">r<tspan class="s" dy="3">3</tspan></text></g>
<g id="n3-neg"><circle class="c neg" cx="614" cy="830" r="14"/><text class="l no" x="614" y="836">¬</text></g>
<g id="n3-and"><circle class="c and" cx="661" cy="794" r="14"/><text class="op ao" x="661" y="799">∧</text></g>
<g id="n3-A"><rect class="ans" x="700" y="780" width="28" height="28"/><text class="l" x="714" y="800">A</text></g>
<g id="n3b-e1"><circle class="c e" cx="552" cy="913" r="14"/><text class="l" x="552" y="917">e<tspan class="s" dy="3">1</tspan></text></g>
<g id="n3b-r1"><circle class="c r1" cx="608" cy="913" r="14"/><text class="l" x="608" y="917">r<tspan class="s" dy="3">1</tspan></text></g>
<g id="n3b-A1"><rect class="ans" x="650" y="899" width="28" height="28"/><text class="l" x="664" y="918">A<tspan class="s" dy="3">1</tspan></text></g>
<g id="n3c-e2"><circle class="c e" cx="554" cy="954" r="14"/><text class="l" x="554" y="958">e<tspan class="s" dy="3">2</tspan></text></g>
<g id="n3c-r2"><circle class="c r1" cx="610" cy="954" r="14"/><text class="l" x="610" y="958">r<tspan class="s" dy="3">2</tspan></text></g>
<g id="n3c-A2"><rect class="ans" x="652" y="940" width="28" height="28"/><text class="l" x="666" y="959">A<tspan class="s" dy="3">2</tspan></text></g>
<g id="n3d-e3"><circle class="c e" cx="556" cy="992" r="14"/><text class="l" x="556" y="996">e<tspan class="s" dy="3">3</tspan></text></g>
<g id="n3d-negr3"><circle class="c neg" cx="612" cy="992" r="14"/><text class="l no" x="612" y="997">¬r<tspan class="s" dy="3">3</tspan></text></g>
<g id="n3d-A3"><rect class="ans" x="652" y="978" width="28" height="28"/><text class="l" x="666" y="997">A<tspan class="s" dy="3">3</tspan></text></g>
<g id="n3e-A1"><rect class="ans" x="542" y="1017" width="28" height="28"/><text class="l" x="556" y="1036">A<tspan class="s" dy="3">1</tspan></text></g>
<g id="n3e-A2"><rect class="ans" x="544" y="1058" width="28" height="28"/><text class="l" x="558" y="1077">A<tspan class="s" dy="3">2</tspan></text></g>
<g id="n3e-A3"><rect class="ans" x="544" y="1098" width="28" height="28"/><text class="l" x="558" y="1117">A<tspan class="s" dy="3">3</tspan></text></g>
<g id="n3e-and"><circle class="c and" cx="612" cy="1072" r="14"/><text class="op ao" x="612" y="1077">∧</text></g>
<g id="n3e-A4"><rect class="ans" x="652" y="1058" width="28" height="28"/><text class="l" x="666" y="1077">A<tspan class="s" dy="3">4</tspan></text></g>

<!-- inp -->
<g id="np-e1"><circle class="c e" cx="784" cy="784" r="14"/><text class="l" x="784" y="788">e<tspan class="s" dy="3">1</tspan></text></g>
<g id="np-r1"><circle class="c r1" cx="872" cy="784" r="14"/><text class="l" x="872" y="788">r<tspan class="s" dy="3">1</tspan></text></g>
<g id="np-e2"><circle class="c e" cx="784" cy="821" r="14"/><text class="l" x="784" y="825">e<tspan class="s" dy="3">2</tspan></text></g>
<g id="np-r2"><circle class="c r1" cx="826" cy="821" r="14"/><text class="l" x="826" y="825">r<tspan class="s" dy="3">2</tspan></text></g>
<g id="np-neg"><circle class="c neg" cx="872" cy="821" r="14"/><text class="l no" x="872" y="827">¬</text></g>
<g id="np-and"><circle class="c and" cx="923" cy="803" r="14"/><text class="op ao" x="923" y="808">∧</text></g>
<g id="np-r3"><circle class="c r2" cx="972" cy="803" r="14"/><text class="l" x="972" y="807">r<tspan class="s" dy="3">3</tspan></text></g>
<g id="npb-e1"><circle class="c e" cx="846" cy="913" r="14"/><text class="l" x="846" y="917">e<tspan class="s" dy="3">1</tspan></text></g>
<g id="npb-r1"><circle class="c r1" cx="902" cy="913" r="14"/><text class="l" x="902" y="917">r<tspan class="s" dy="3">1</tspan></text></g>
<g id="npb-A1"><rect class="ans" x="943" y="899" width="28" height="28"/><text class="l" x="957" y="918">A<tspan class="s" dy="3">1</tspan></text></g>
<g id="npc-e2"><circle class="c e" cx="848" cy="954" r="14"/><text class="l" x="848" y="958">e<tspan class="s" dy="3">2</tspan></text></g>
<g id="npc-negr2"><circle class="c neg" cx="903" cy="954" r="14"/><text class="l no" x="903" y="959">¬r<tspan class="s" dy="3">2</tspan></text></g>
<g id="npc-A2"><rect class="ans" x="944" y="940" width="28" height="28"/><text class="l" x="958" y="959">A<tspan class="s" dy="3">2</tspan></text></g>
<g id="npd-A1"><rect class="ans" x="836" y="973" width="28" height="28"/><text class="l" x="850" y="992">A<tspan class="s" dy="3">1</tspan></text></g>
<g id="npd-A2"><rect class="ans" x="837" y="1014" width="28" height="28"/><text class="l" x="851" y="1033">A<tspan class="s" dy="3">2</tspan></text></g>
<g id="npd-and"><circle class="c and" cx="905" cy="1011" r="14"/><text class="op ao" x="905" y="1016">∧</text></g>
<g id="npd-A3"><rect class="ans" x="944" y="997" width="28" height="28"/><text class="l" x="958" y="1016">A<tspan class="s" dy="3">3</tspan></text></g>
<g id="npe-A3"><rect class="ans" x="837" y="1055" width="28" height="28"/><text class="l" x="851" y="1074">A<tspan class="s" dy="3">3</tspan></text></g>
<g id="npe-r3"><circle class="c r2" cx="903" cy="1069" r="14"/><text class="l" x="903" y="1073">r<tspan class="s" dy="3">3</tspan></text></g>
<g id="npe-A"><rect class="ans" x="944" y="1055" width="28" height="28"/><text class="l" x="958" y="1075">A</text></g>

<!-- pin -->
<g id="pn-e1"><circle class="c e" cx="23" cy="1194" r="14"/><text class="l" x="23" y="1198">e<tspan class="s" dy="3">1</tspan></text></g>
<g id="pn-r1"><circle class="c r1" cx="72" cy="1194" r="14"/><text class="l" x="72" y="1198">r<tspan class="s" dy="3">1</tspan></text></g>
<g id="pn-r2"><circle class="c r2" cx="120" cy="1194" r="14"/><text class="l" x="120" y="1198">r<tspan class="s" dy="3">2</tspan></text></g>
<g id="pn-neg"><circle class="c neg" cx="162" cy="1194" r="14"/><text class="l no" x="162" y="1200">¬</text></g>
<g id="pn-e2"><circle class="c e" cx="69" cy="1233" r="14"/><text class="l" x="69" y="1237">e<tspan class="s" dy="3">2</tspan></text></g>
<g id="pn-r3"><circle class="c r1" cx="118" cy="1233" r="14"/><text class="l" x="118" y="1237">r<tspan class="s" dy="3">3</tspan></text></g>
<g id="pn-and"><circle class="c and" cx="217" cy="1212" r="14"/><text class="op ao" x="217" y="1217">∧</text></g>
<g id="pn-A"><rect class="ans" x="259" y="1198" width="28" height="28"/><text class="l" x="273" y="1218">A</text></g>
<g id="pnb-e1"><circle class="c e" cx="93" cy="1318" r="14"/><text class="l" x="93" y="1322">e<tspan class="s" dy="3">1</tspan></text></g>
<g id="pnb-r1"><circle class="c r1" cx="149" cy="1318" r="14"/><text class="l" x="149" y="1322">r<tspan class="s" dy="3">1</tspan></text></g>
<g id="pnb-A1"><rect class="ans" x="190" y="1304" width="28" height="28"/><text class="l" x="204" y="1323">A<tspan class="s" dy="3">1</tspan></text></g>
<g id="pnc-A1"><rect class="ans" x="78" y="1345" width="28" height="28"/><text class="l" x="92" y="1364">A<tspan class="s" dy="3">1</tspan></text></g>
<g id="pnc-negr2"><circle class="c neg" cx="148" cy="1359" r="14"/><text class="l no" x="148" y="1364">¬r<tspan class="s" dy="3">2</tspan></text></g>
<g id="pnc-A2"><rect class="ans" x="191" y="1345" width="28" height="28"/><text class="l" x="205" y="1364">A<tspan class="s" dy="3">2</tspan></text></g>
<g id="pnd-e2"><circle class="c e" cx="93" cy="1401" r="14"/><text class="l" x="93" y="1405">e<tspan class="s" dy="3">2</tspan></text></g>
<g id="pnd-r3"><circle class="c r1" cx="148" cy="1401" r="14"/><text class="l" x="148" y="1405">r<tspan class="s" dy="3">3</tspan></text></g>
<g id="pnd-A3"><rect class="ans" x="190" y="1387" width="28" height="28"/><text class="l" x="204" y="1406">A<tspan class="s" dy="3">3</tspan></text></g>
<g id="pne-A2"><rect class="ans" x="80" y="1422" width="28" height="28"/><text class="l" x="94" y="1441">A<tspan class="s" dy="3">2</tspan></text></g>
<g id="pne-A3"><rect class="ans" x="81" y="1462" width="28" height="28"/><text class="l" x="95" y="1481">A<tspan class="s" dy="3">3</tspan></text></g>
<g id="pne-and"><circle class="c and" cx="148" cy="1460" r="14"/><text class="op ao" x="148" y="1465">∧</text></g>
<g id="pne-A4"><rect class="ans" x="189" y="1446" width="28" height="28"/><text class="l" x="203" y="1465">A<tspan class="s" dy="3">4</tspan></text></g>

<!-- pni -->
<g id="pq-e1"><circle class="c e" cx="348" cy="1194" r="14"/><text class="l" x="348" y="1198">e<tspan class="s" dy="3">1</tspan></text></g>
<g id="pq-r1"><circle class="c r1" cx="397" cy="1194" r="14"/><text class="l" x="397" y="1198">r<tspan class="s" dy="3">1</tspan></text></g>
<g id="pq-r2"><circle class="c r2" cx="445" cy="1194" r="14"/><text class="l" x="445" y="1198">r<tspan class="s" dy="3">2</tspan></text></g>
<g id="pq-e2"><circle class="c e" cx="348" cy="1231" r="14"/><text class="l" x="348" y="1235">e<tspan class="s" dy="3">2</tspan></text></g>
<g id="pq-r3"><circle class="c r1" cx="397" cy="1231" r="14"/><text class="l" x="397" y="1235">r<tspan class="s" dy="3">3</tspan></text></g>
<g id="pq-neg"><circle class="c neg" cx="445" cy="1231" r="14"/><text class="l no" x="445" y="1237">¬</text></g>
<g id="pq-and"><circle class="c and" cx="497" cy="1211" r="14"/><text class="op ao" x="497" y="1216">∧</text></g>
<g id="pq-A"><rect class="ans" x="538" y="1197" width="28" height="28"/><text class="l" x="552" y="1217">A</text></g>
<g id="pqb-e1"><circle class="c e" cx="390" cy="1308" r="14"/><text class="l" x="390" y="1312">e<tspan class="s" dy="3">1</tspan></text></g>
<g id="pqb-r1"><circle class="c r1" cx="446" cy="1308" r="14"/><text class="l" x="446" y="1312">r<tspan class="s" dy="3">1</tspan></text></g>
<g id="pqb-A1"><rect class="ans" x="487" y="1294" width="28" height="28"/><text class="l" x="501" y="1313">A<tspan class="s" dy="3">1</tspan></text></g>
<g id="pqc-A1"><rect class="ans" x="375" y="1335" width="28" height="28"/><text class="l" x="389" y="1354">A<tspan class="s" dy="3">1</tspan></text></g>
<g id="pqc-r2"><circle class="c r2" cx="443" cy="1349" r="14"/><text class="l" x="443" y="1353">r<tspan class="s" dy="3">2</tspan></text></g>
<g id="pqc-A2"><rect class="ans" x="487" y="1335" width="28" height="28"/><text class="l" x="501" y="1354">A<tspan class="s" dy="3">2</tspan></text></g>
<g id="pqd-e2"><circle class="c e" cx="389" cy="1391" r="14"/><text class="l" x="389" y="1395">e<tspan class="s" dy="3">2</tspan></text></g>
<g id="pqd-negr3"><circle class="c neg" cx="445" cy="1391" r="14"/><text class="l no" x="445" y="1396">¬r<tspan class="s" dy="3">3</tspan></text></g>
<g id="pqd-A3"><rect class="ans" x="486" y="1377" width="28" height="28"/><text class="l" x="500" y="1396">A<tspan class="s" dy="3">3</tspan></text></g>
<g id="pqe-A2"><rect class="ans" x="376" y="1413" width="28" height="28"/><text class="l" x="390" y="1432">A<tspan class="s" dy="3">2</tspan></text></g>
<g id="pqe-A3"><rect class="ans" x="378" y="1454" width="28" height="28"/><text class="l" x="392" y="1473">A<tspan class="s" dy="3">3</tspan></text></g>
<g id="pqe-and"><circle class="c and" cx="446" cy="1451" r="14"/><text class="op ao" x="446" y="1456">∧</text></g>
<g id="pqe-A4"><rect class="ans" x="485" y="1437" width="28" height="28"/><text class="l" x="499" y="1456">A<tspan class="s" dy="3">4</tspan></text></g>

<!-- legend -->
<g id="legend">
<rect x="602" y="1160" width="386" height="340" fill="none" stroke="#555" stroke-width="1.3" stroke-dasharray="7 5"/>
<g id="lg-r"><circle class="c r1" cx="626" cy="1191" r="14"/><circle class="c r2" cx="661" cy="1191" r="14"/><circle class="c r3" cx="701" cy="1191" r="14"/>
<text class="l ls" x="626" y="1195">r</text><text class="l ls" x="661" y="1195">r</text><text class="l ls" x="701" y="1195">r</text>
<text class="lg" x="732" y="1194">Projection with Relation r</text></g>
<g id="lg-e"><circle class="c e" cx="646" cy="1243" r="14"/><text class="l ls" x="646" y="1247">e</text><text class="lg" x="671" y="1251">Question Entities</text></g>
<g id="lg-A"><rect class="ans" x="632" y="1283" width="28" height="28"/><text class="l ls" x="646" y="1301">A</text><text class="lg" x="673" y="1303">Answer Entities</text></g>
<g id="lg-and"><circle class="c and" cx="646" cy="1352" r="14"/><text class="op ao" x="646" y="1357" style="font-size:14px">∧</text><text class="lg" x="673" y="1358">Intersection over the entity sets</text></g>
<g id="lg-or"><circle class="c or" cx="646" cy="1405" r="14"/><text class="op oo" x="646" y="1410" style="font-size:14px">∨</text><text class="lg" x="672" y="1412">Union over the entity sets</text></g>
<g id="lg-neg"><circle class="c neg" cx="650" cy="1462" r="14"/><text class="l no ls" x="650" y="1468">¬</text><text class="lg" x="676" y="1468">Negation of a relation</text></g>
</g>
</svg>
